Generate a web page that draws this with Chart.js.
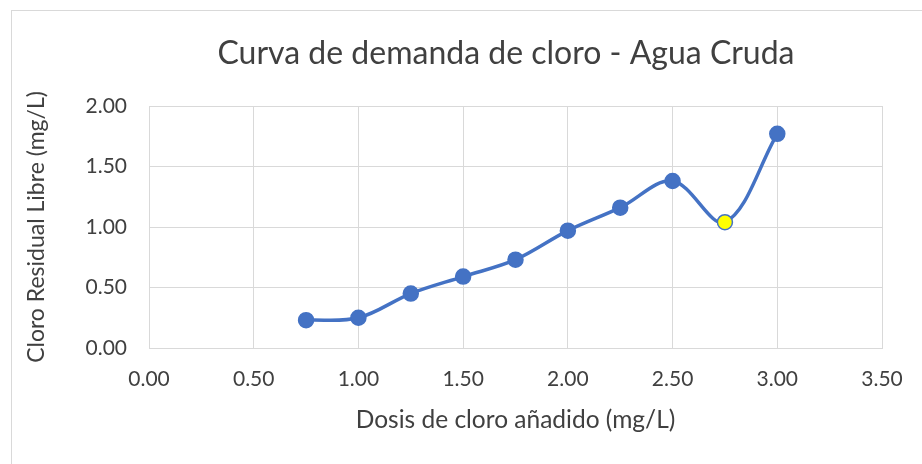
<!DOCTYPE html>
<html lang="es">
<head>
<meta charset="utf-8">
<title>Curva de demanda de cloro - Agua Cruda</title>
<script src="https://cdn.jsdelivr.net/npm/chart.js@4.4.1/dist/chart.umd.min.js"></script>
<style>
    html, body { margin: 0; padding: 0; background: #ffffff; }
    .wrap { position: relative; width: 922px; height: 464px; overflow: hidden; }
    .frame {
        position: absolute; left: 11px; top: 10px;
        width: 930px; height: 470px;
        border: 1px solid #d9d9d9; box-sizing: border-box;
    }
    #demandChart { position: absolute; left: 0; top: 0; }
</style>
</head>
<body>
<div class="wrap">
    <div class="frame"></div>
    <canvas id="demandChart" width="922" height="464"></canvas>
</div>
<script>
(function () {
    'use strict';

    // dosis de cloro añadido (mg/L)
    var doses = [0.75, 1.00, 1.25, 1.50, 1.75, 2.00, 2.25, 2.50, 2.75, 3.00];
    // cloro residual libre (mg/L)
    var residual = [0.23, 0.25, 0.45, 0.59, 0.73, 0.97, 1.16, 1.38, 1.04, 1.77];
    // punto de quiebre, marcado en amarillo
    var breakpointIndex = 8;

    var chartTitle = 'Curva de demanda de cloro - Agua Cruda';
    var xTitle = 'Dosis de cloro añadido (mg/L)';
    var yTitle = 'Cloro Residual Libre (mg/L)';

    var FONT = 'Lato, "Open Sans", sans-serif';
    var TEXT = '#404040';
    var GRID = '#d9d9d9';
    var BLUE = '#4472C4';

    var points = doses.map(function (d, i) { return { x: d, y: residual[i] }; });

    var titlePlugin = {
        id: 'excelTitle',
        afterDraw: function (chart) {
            var ctx = chart.ctx;
            ctx.save();
            ctx.font = '32px ' + FONT;
            ctx.fillStyle = TEXT;
            ctx.textAlign = 'center';
            ctx.textBaseline = 'alphabetic';
            ctx.fillText(chartTitle, 506, 64);
            ctx.restore();
        }
    };

    new Chart(document.getElementById('demandChart'), {
        type: 'scatter',
        data: {
            datasets: [{
                label: yTitle,
                data: points,
                showLine: true,
                borderColor: BLUE,
                borderWidth: 3.5,
                tension: 0.35,
                pointRadius: 7.5,
                pointHoverRadius: 7.5,
                pointBorderWidth: 1.5,
                pointBorderColor: BLUE,
                pointBackgroundColor: function (c) {
                    return c.dataIndex === breakpointIndex ? '#FFFF00' : BLUE;
                }
            }]
        },
        options: {
            responsive: false,
            animation: false,
            layout: { padding: { top: 106, right: 40, bottom: 0, left: 0 } },
            plugins: {
                legend: { display: false },
                tooltip: { enabled: false },
                title: { display: false }
            },
            scales: {
                x: {
                    type: 'linear',
                    min: 0,
                    max: 3.5,
                    afterFit: function (s) { s.height = 116; },
                    ticks: {
                        stepSize: 0.5,
                        padding: 19,
                        color: TEXT,
                        font: { family: FONT, size: 21 },
                        callback: function (v) { return Number(v).toFixed(2); }
                    },
                    grid: { color: GRID, lineWidth: 1, drawTicks: false },
                    border: { color: GRID },
                    title: {
                        display: true,
                        text: xTitle,
                        color: TEXT,
                        font: { family: FONT, size: 24.5 },
                        padding: { top: 0, bottom: 29 }
                    }
                },
                y: {
                    min: 0,
                    max: 2,
                    afterFit: function (s) { s.width = 149; },
                    ticks: {
                        stepSize: 0.5,
                        padding: 22,
                        color: TEXT,
                        font: { family: FONT, size: 21 },
                        callback: function (v) { return Number(v).toFixed(2); }
                    },
                    grid: { color: GRID, lineWidth: 1, drawTicks: false },
                    border: { color: GRID },
                    title: {
                        display: true,
                        text: yTitle,
                        color: TEXT,
                        font: { family: FONT, size: 23 },
                        padding: { top: 23, bottom: 0 }
                    }
                }
            }
        },
        plugins: [titlePlugin]
    });
})();
</script>
</body>
</html>
